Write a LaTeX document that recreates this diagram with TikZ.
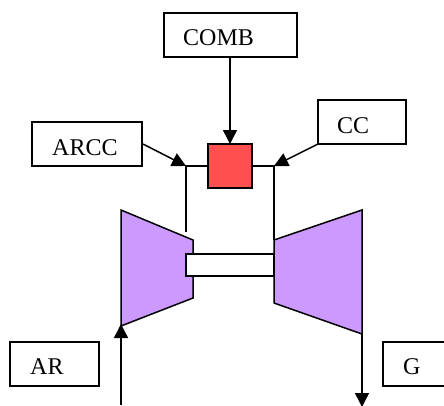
\documentclass[tikz,border=0pt]{standalone}
\usepackage{fontspec}
\setmainfont{Liberation Serif}
\usetikzlibrary{arrows.meta}
\tikzset{
  x=1pt,y=-1pt,
  labelbox/.style={draw=black,line width=1.5pt,fill=white,inner sep=0pt,outer sep=0pt,minimum width=#1,minimum height=44pt},
  txt/.style={anchor=base west,inner sep=0pt,font=\fontsize{24}{26}\selectfont,text=black},
  wire/.style={draw=black,line width=1.5pt},
  flow/.style={wire,-{Triangle[length=14pt,width=14pt]},shorten >=0pt},
  machine/.style={draw=black,line width=1.5pt,fill=machinefill,line join=miter},
}
\definecolor{machinefill}{HTML}{CC99FF}
\definecolor{burner}{HTML}{FF5050}
\begin{document}
\begin{tikzpicture}
\useasboundingbox (0,0) rectangle (444,405);
\clip (0,0) rectangle (444,405);
% boxes
\node[labelbox=133pt] (comb) at (230.5,35) {};
\node[txt] (combt) at (183,45) {COMB};
\node[labelbox=110pt] (arcc) at (87,144) {};
\node[txt] (arcct) at (52,155) {ARCC};
\node[labelbox=88pt] (cc) at (362,122) {};
\node[txt] (cct) at (337,133) {CC};
\node[labelbox=89pt] (ar) at (54.5,364) {};
\node[txt] (art) at (30,374) {AR};
\node[labelbox=70pt] (g) at (418,364) {};
\node[txt] (gt) at (403,374) {G};
% burner
\node[draw=black,line width=1.8pt,fill=burner,minimum size=44pt,inner sep=0pt,outer sep=0pt] (burn) at (230,166) {};
% junctions
\coordinate (jl) at (186,166);
\coordinate (jr) at (274,166);
\coordinate (jlb) at (186,232);
\coordinate (jrb) at (274,240);
\coordinate (arin) at (121,405);
\coordinate (arout) at (121,324);
\coordinate (gin) at (362,334);
\coordinate (gout) at (362,407);
\coordinate (arccs) at (143,144);
\coordinate (ccs) at (318,144);
% machines
\draw[machine] (121,210) -- (193,240) -- (193,298) -- (121,326) -- cycle;
\draw[machine] (274,240) -- (362,210) -- (362,334) -- (274,303) -- cycle;
\node[draw=black,line width=1.5pt,fill=white,minimum width=88pt,minimum height=22pt,inner sep=0pt,outer sep=0pt] (shaft) at (230,265) {};
% wires
\draw[wire] (burn.west |- jl) -- (jl) -- (jlb);
\draw[wire] (burn.east |- jr) -- (jr) -- (jrb);
\draw[flow] (comb.south -| burn.north) -- (burn.north);
\draw[flow] (arccs) -- (jl);
\draw[flow] (ccs) -- (jr);
\draw[flow] (arin) -- (arout);
\draw[flow] (gin) -- (gout);
\end{tikzpicture}
\end{document}
